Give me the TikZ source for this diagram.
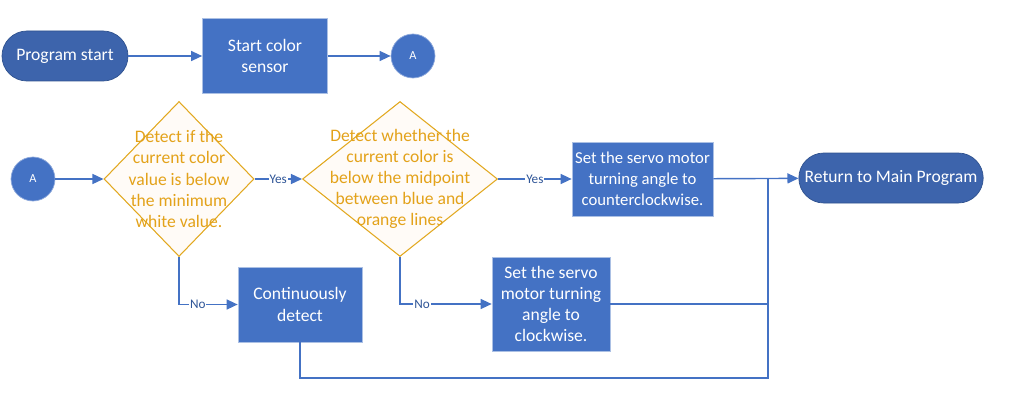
\documentclass[tikz,border=0pt]{standalone}
\usepackage{fontspec}
\setmainfont{Carlito}
\usetikzlibrary{shapes.geometric, arrows.meta}

\definecolor{boxblue}{HTML}{4472C4}
\definecolor{termblue}{HTML}{3D64AC}
\definecolor{termedge}{HTML}{2F528F}
\definecolor{gold}{HTML}{E2A81F}
\definecolor{goldtext}{HTML}{E3A21A}
\definecolor{labblue}{HTML}{2F5597}

\begin{document}
\begin{tikzpicture}[
    term/.style={rectangle, rounded corners=0.5cm, draw=termedge, fill=termblue, text=white,
        minimum height=1cm, font=\fontsize{10}{12}\selectfont},
    proc/.style={rectangle, draw=boxblue!45!white, fill=boxblue, text=white, align=center,
        font=\fontsize{10}{12}\selectfont},
    conn/.style={circle, draw=boxblue!60!white, fill=boxblue, text=white, minimum size=0.88cm,
        inner sep=0pt, font=\fontsize{7}{8}\selectfont},
    decide/.style={diamond, draw=gold, fill=orange!3, line width=0.6pt, inner sep=0pt},
    dtext/.style={text=goldtext, align=center, font=\fontsize{10}{12}\selectfont},
    arr/.style={draw=boxblue, line width=0.8pt, -{Triangle[length=0.22cm, width=0.2cm]}},
    line/.style={draw=boxblue, line width=0.8pt},
    yn/.style={fill=white, text=labblue, inner sep=0.5pt, font=\fontsize{7.5}{8}\selectfont}
]
    \useasboundingbox (0,0) rectangle (20.68,-8.2);

    \node[term, minimum width=2.52cm] (start) at (1.30, -1.12) {Program start};
    \node[proc, minimum width=2.5cm, minimum height=1.5cm] (sensor) at (5.30, -1.12) {Start color\\sensor};
    \node[conn] (a1) at (8.26, -1.12) {A};

    \node[conn] (a2) at (0.66, -3.58) {A};
    \node[decide, minimum width=3.0cm, minimum height=3.1cm,
        label={[dtext]center:{Detect if the\\current color\\value is below\\the minimum\\white value.}}] (d1) at (3.58, -3.58) {};
    \node[decide, minimum width=3.9cm, minimum height=3.1cm,
        label={[dtext]center:{Detect whether the\\current color is\\below the midpoint\\between blue and\\orange lines}}] (d2) at (8.0, -3.58) {};
    \node[proc, minimum width=2.82cm, minimum height=1.48cm, inner xsep=1pt,
        font=\fontsize{9.5}{12}\selectfont] (ccw) at (12.85, -3.58) {Set the servo motor\\turning angle to\\counterclockwise.};
    \node[term, minimum width=3.52cm] (ret) at (17.82, -3.56) {Return to Main Program};

    \node[proc, minimum width=2.48cm, minimum height=1.5cm] (cont) at (6.0, -6.09) {Continuously\\detect};
    \node[proc, minimum width=2.36cm, minimum height=1.88cm] (cw) at (11.02, -6.08) {Set the servo\\motor turning\\angle to\\clockwise.};

    \coordinate (j) at (15.36, -3.58);
    \coordinate (jb) at (15.36, -7.56);

    % top row
    \draw[arr] (start) -- (sensor);
    \draw[arr] (sensor) -- (a1);

    % decisions
    \draw[arr] (a2) -- (d1);
    \draw[arr] (d1) -- node[yn] {Yes} (d2);
    \draw[arr] (d2) -- node[yn] {Yes} (ccw);
    \draw[arr] (d1.south) |- node[yn, pos=0.66] {No} (cont);
    \draw[arr] (d2.south) |- node[yn, pos=0.62] {No} (cw);

    % merge to return
    \draw[arr] (ccw) -- (ret);
    \draw[line] (cw) -| (j);
    \draw[line] (cont) |- (jb) -- (j);
\end{tikzpicture}
\end{document}
